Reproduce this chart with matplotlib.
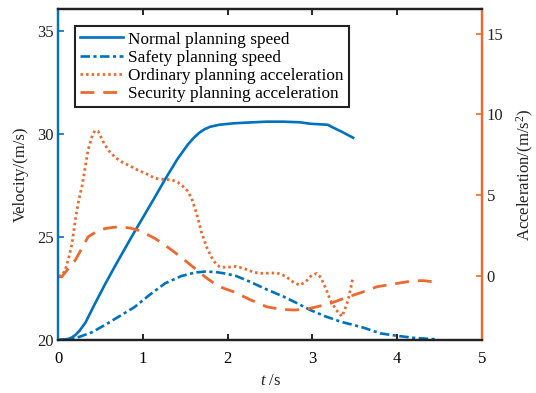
import numpy as np
import matplotlib.pyplot as plt

plt.rcParams['font.family'] = ['Liberation Serif', 'DejaVu Serif']
plt.rcParams['mathtext.fontset'] = 'custom'
plt.rcParams['mathtext.rm'] = 'Liberation Serif'
plt.rcParams['mathtext.it'] = 'Liberation Serif:italic'

# Normal planning speed (m/s)
t_normal = [0.0, 0.08, 0.15, 0.2, 0.25, 0.32, 0.43, 0.55, 0.67, 0.87, 1.02, 1.12, 1.26, 1.4,
            1.53, 1.6, 1.66, 1.72, 1.79, 1.9, 2.07, 2.25, 2.46, 2.65, 2.85, 2.97, 3.09,
            3.18, 3.25, 3.35, 3.48]
v_normal = [20.0, 20.0, 20.1, 20.24, 20.45, 20.85, 21.75, 22.7, 23.6, 25.05, 26.1, 26.8, 27.8,
            28.75, 29.5, 29.82, 30.05, 30.22, 30.35, 30.45, 30.52, 30.56, 30.6, 30.6, 30.57,
            30.5, 30.47, 30.45, 30.3, 30.1, 29.82]

# Safety planning speed (m/s)
t_safety = [0.0, 0.2, 0.4, 0.55, 0.72, 0.9, 1.08, 1.26, 1.45, 1.61, 1.73, 1.85, 1.95,
            2.09, 2.26, 2.46, 2.66, 2.82, 2.97, 3.15, 3.33, 3.6, 3.8, 4.0, 4.2, 4.47]
v_safety = [20.0, 20.08, 20.38, 20.73, 21.15, 21.6, 22.2, 22.75, 23.1, 23.27, 23.32, 23.3, 23.24,
            23.12, 22.83, 22.45, 22.1, 21.78, 21.46, 21.15, 20.89, 20.6, 20.32, 20.2, 20.1, 20.03]

# Ordinary planning acceleration (m/s^2)
t_ordinary = [0.0, 0.04, 0.08, 0.12, 0.16, 0.2, 0.24, 0.28, 0.35, 0.4, 0.43, 0.47, 0.53,
              0.59, 0.67, 0.75, 0.85, 0.94, 1.05, 1.14, 1.25, 1.34, 1.41, 1.46, 1.52,
              1.57, 1.63, 1.69, 1.75, 1.81, 1.86, 1.91, 2.0, 2.1, 2.2, 2.3, 2.38, 2.48,
              2.58, 2.68, 2.78, 2.85, 2.92, 2.98, 3.05, 3.1, 3.16, 3.21, 3.28, 3.35,
              3.42, 3.48]
a_ordinary = [0.0, 0.05, 0.37, 1.1, 2.0, 3.5, 4.7, 5.6, 7.8, 8.7, 9.0, 8.95, 8.3,
              7.78, 7.35, 7.06, 6.8, 6.55, 6.3, 6.05, 5.98, 5.95, 5.8, 5.6, 5.3,
              4.85, 3.9, 2.7, 1.8, 1.15, 0.75, 0.55, 0.55, 0.6, 0.45, 0.25, 0.17, 0.18,
              0.2, 0.0, -0.4, -0.56, -0.35, 0.0, 0.17, -0.1, -0.8, -1.48, -2.1, -2.5,
              -1.5, -0.05]

# Security planning acceleration (m/s^2)
t_security = [0.0, 0.04, 0.1, 0.2, 0.28, 0.35, 0.45, 0.55, 0.65, 0.75, 0.85, 0.94, 1.04,
              1.14, 1.24, 1.34, 1.44, 1.54, 1.64, 1.73, 1.85, 1.95, 2.07, 2.26, 2.46,
              2.62, 2.78, 2.92, 3.05, 3.21, 3.37, 3.6, 3.76, 4.0, 4.19, 4.3, 4.43]
a_security = [-0.05, -0.04, 0.35, 1.0, 1.75, 2.43, 2.75, 2.94, 3.02, 3.04, 2.97, 2.84, 2.6,
              2.33, 1.98, 1.6, 1.2, 0.78, 0.35, -0.04, -0.5, -0.75, -0.97, -1.45, -1.9,
              -2.05, -2.1, -2.05, -1.9, -1.69, -1.38, -0.97, -0.66, -0.45, -0.29, -0.28, -0.35]

blue = '#0072BD'
orange = '#EC6A2F'

fig = plt.figure(figsize=(5.36, 3.93), dpi=100)
ax = fig.add_axes([0.109, 0.135, 0.79, 0.841])
ax2 = ax.twinx()

l1, = ax.plot(t_normal, v_normal, color=blue, lw=1.9, label='Normal planning speed')
l2, = ax.plot(t_safety, v_safety, color=blue, lw=1.9, dashes=(3.6, 1.3, 1.2, 1.3),
              label='Safety planning speed')
l3, = ax2.plot(t_ordinary, a_ordinary, color=orange, lw=2, dashes=(0.9, 1.1),
               label='Ordinary planning acceleration')
l4, = ax2.plot(t_security, a_security, color=orange, lw=2, dashes=(5, 3.2),
               label='Security planning acceleration')

ax.set_xlim(0, 5)
ax.set_ylim(20, 36.05)
ax2.set_ylim(-3.95, 16.5)
ax.set_xticks([0, 1, 2, 3, 4, 5])
ax.set_yticks([20, 25, 30, 35])
ax2.set_yticks([0, 5, 10, 15])

ax.tick_params(axis='x', direction='in', top=True, length=4, width=1.2, labelsize=12, pad=8)
ax.tick_params(axis='y', direction='in', colors=blue, labelcolor='#222222', length=4,
               width=1.2, labelsize=12)
ax2.tick_params(axis='y', direction='in', colors=orange, labelcolor='#222222', length=4,
                width=1.2, labelsize=12)

for a in (ax, ax2):
    a.spines['top'].set_linewidth(1.6)
    a.spines['bottom'].set_linewidth(1.6)
    a.spines['top'].set_color('#222222')
    a.spines['bottom'].set_color('#222222')
    a.spines['left'].set_color(blue)
    a.spines['right'].set_color(orange)
    a.spines['left'].set_linewidth(1.6)
    a.spines['right'].set_linewidth(1.6)

ax.set_xlabel('$t$ /s', fontsize=12, color='#222222')
ax.set_ylabel('Velocity/(m/s)', fontsize=12, color='#222222', labelpad=6)
ax2.set_ylabel('Acceleration/(m/s$^2$)', fontsize=12, color='#222222', labelpad=8)

leg = ax2.legend(handles=[l1, l2, l3, l4], loc='upper left', bbox_to_anchor=(0.039, 0.949),
                 borderaxespad=0, fontsize=12.4, handlelength=2.5, handletextpad=0.3,
                 labelspacing=0.12, borderpad=0.3, fancybox=False, framealpha=1)
leg.get_frame().set_edgecolor('#222222')
leg.get_frame().set_linewidth(1.5)

fig.savefig('out.png', dpi=100)
